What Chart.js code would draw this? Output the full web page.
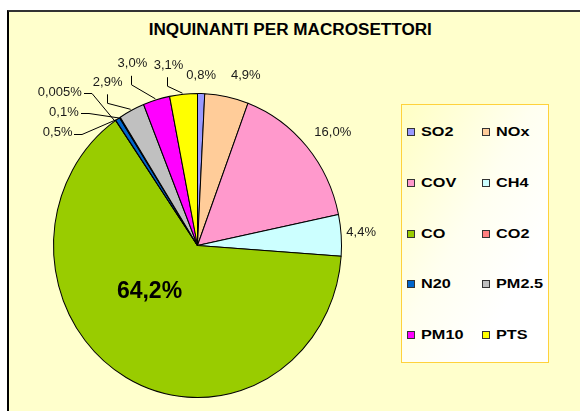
<!DOCTYPE html>
<html>
<head>
<meta charset="utf-8">
<script src="https://cdn.jsdelivr.net/npm/chart.js@4/dist/chart.umd.min.js"></script>
<style>
  html, body { margin: 0; padding: 0; background: #ffffff; }
  #wrap { position: relative; width: 580px; height: 411px; overflow: hidden; }
  #frame { position: absolute; left: 7px; top: 10px; width: 580px; height: 410px;
           background: #FFFFCC; border-top: 2px solid #333; border-left: 2px solid #000; }
  #title { position: absolute; left: 0; width: 580px; top: 21px; text-align: center;
           font: bold 16px "Liberation Sans", Arial, sans-serif; color: #000; }
  #title span { display: inline-block; transform: scaleX(1.07); }
  #legend { position: absolute; left: 401px; top: 104px; width: 146px; height: 257px;
            border: 1px solid #FFD23C;
            background: linear-gradient(to bottom right, #FFFFC4 0%, #FFFFF0 45%, #FFFFFF 75%); }
  .item { position: absolute; height: 16px; font: bold 13px "Liberation Sans", Arial, sans-serif; color: #000; }
  .box { position: absolute; left: 0; top: 4px; width: 6px; height: 6px; border: 1px solid #333; }
  .txt { position: absolute; left: 14px; top: 0; line-height: 16px; white-space: nowrap;
         transform: scaleX(1.25); transform-origin: left center; }
  canvas { position: absolute; left: 0; top: 0; }
</style>
</head>
<body>
<div id="wrap">
  <div id="frame"></div>
  <div id="title"><span>INQUINANTI PER MACROSETTORI</span></div>
  <div id="legend"></div>
  <canvas id="c" width="580" height="411"></canvas>
</div>
<script>
// ---- data ----
const categories = ['SO2', 'NOx', 'COV', 'CH4', 'CO', 'CO2', 'N20', '', 'PM2.5', 'PM10', 'PTS'];
const values     = [0.8, 4.9, 16.0, 4.4, 64.2, 0.005, 0.5, 0.1, 2.9, 3.0, 3.1];
const colors     = ['#9999FF', '#FFCC99', '#FF99CC', '#CCFFFF', '#99CC00', '#FF8080', '#0066CC', '#0066CC', '#C0C0C0', '#FF00FF', '#FFFF00'];

// label placement (offset from slice edge anchor; leader style)
const labelLayout = [
  { dx: 0,   dy: -18 },
  { dx: 19,  dy: -21 },
  { dx: 26,  dy: -14 },
  { dx: 20,  dy: -3 },
  { fromCenter: true, dx: -48, dy: 46, bold: true },
  { dx: -56, dy: -28, leader: 'h' },
  { dx: -60, dy: 13.5, leader: 'h' },
  { dx: -56, dy: -5, leader: 'h' },
  { dx: -24, dy: -28, leader: 'v' },
  { dx: -24, dy: -36, leader: 'v' },
  { dx: -15, dy: -29, leader: 'v' }
];

const SY = 152 / 144; // vertical stretch of the pie (ellipse)

function fmt(v) {
  const s = v < 0.01 ? v.toFixed(3) : v.toFixed(1);
  return s.replace('.', ',') + '%';
}

// ---- legend (HTML, from data arrays) ----
(function buildLegend() {
  const lg = document.getElementById('legend');
  const items = categories.map((c, i) => ({ c, col: colors[i] })).filter(o => o.c !== '');
  items.forEach((o, k) => {
    const row = Math.floor(k / 2), col = k % 2;
    const d = document.createElement('div');
    d.className = 'item';
    d.style.left = (5 + col * 75) + 'px';
    d.style.top = (19 + row * 50.8) + 'px';
    d.innerHTML = '<div class="box" style="background:' + o.col + '"></div><div class="txt">' + o.c + '</div>';
    lg.appendChild(d);
  });
})();

const ellipsePlugin = {
  id: 'ellipse',
  beforeDatasetsDraw(chart) {
    const a = chart.getDatasetMeta(0).data[0];
    const ctx = chart.ctx;
    ctx.save();
    ctx.translate(a.x, a.y);
    ctx.scale(1, SY);
    ctx.translate(-a.x, -a.y);
  },
  afterDatasetsDraw(chart) {
    const ctx = chart.ctx;
    ctx.restore();
    const meta = chart.getDatasetMeta(0);
    meta.data.forEach((arc, i) => {
      const L = labelLayout[i];
      const mid = (arc.startAngle + arc.endAngle) / 2;
      const R = arc.outerRadius;
      const ax = arc.x + Math.cos(mid) * R;
      const ay = arc.y + Math.sin(mid) * R * SY;
      let tx, ty;
      if (L.fromCenter) { tx = arc.x + L.dx; ty = arc.y + L.dy; }
      else { tx = ax + L.dx; ty = ay + L.dy; }
      const text = fmt(values[i]);
      ctx.save();
      ctx.font = (L.bold ? 'bold 23px' : '13px') + ' "Liberation Sans", Arial, sans-serif';
      ctx.fillStyle = L.bold ? '#000' : '#1a1a1a';
      ctx.textAlign = 'center';
      ctx.textBaseline = 'middle';
      ctx.fillText(text, tx, ty);
      const w = ctx.measureText(text).width;
      ctx.strokeStyle = '#000';
      ctx.lineWidth = 1;
      if (L.leader === 'h') {
        const x0 = tx + w / 2 + 2;
        ctx.beginPath();
        ctx.moveTo(Math.round(x0), Math.round(ty + 1) + 0.5);
        ctx.lineTo(Math.round(x0 + 8), Math.round(ty + 1) + 0.5);
        ctx.lineTo(ax - 1, ay + 0.5);
        ctx.stroke();
      } else if (L.leader === 'v') {
        const xl = Math.round(tx) - 0.5;
        ctx.beginPath();
        ctx.moveTo(xl, ty + 12);
        ctx.lineTo(xl, ty + 21);
        ctx.lineTo(ax - 1, ay - 1);
        ctx.stroke();
      }
      ctx.restore();
    });
  }
};

new Chart(document.getElementById('c'), {
  type: 'pie',
  data: {
    labels: categories,
    datasets: [{
      data: values,
      backgroundColor: colors,
      borderColor: '#000',
      borderWidth: 1,
      clip: false
    }]
  },
  options: {
    responsive: false,
    animation: false,
    layout: { padding: { left: 53, right: 238, top: 101, bottom: 21 } },
    plugins: {
      legend: { display: false },
      tooltip: { enabled: false },
      title: { display: false }
    }
  },
  plugins: [ellipsePlugin]
});
</script>
</body>
</html>
